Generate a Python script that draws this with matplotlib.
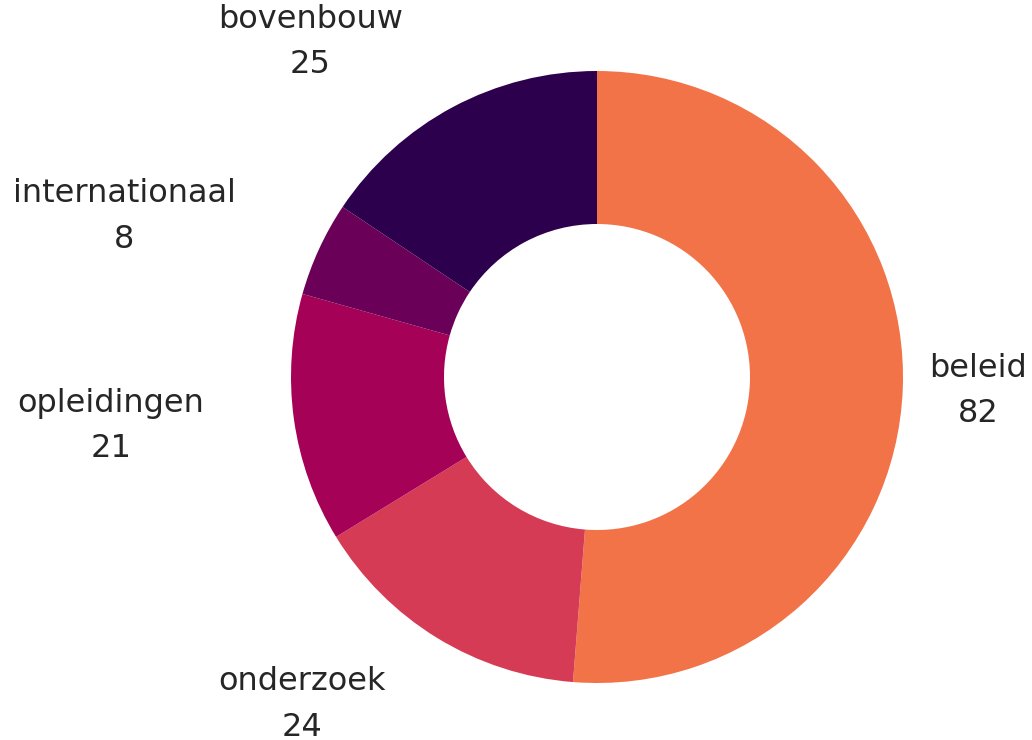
import matplotlib

matplotlib.use("Agg")
import matplotlib.pyplot as plt

categories = ["beleid", "onderzoek", "opleidingen", "internationaal", "bovenbouw"]
values = [82, 24, 21, 8, 25]
colors = ["#F37348", "#D63B55", "#A50157", "#6B0058", "#2D004E"]

# label centres in pie units (radius = 1)
label_pos = [(1.245, -0.045), (-0.965, -1.07), (-1.588, -0.16), (-1.545, 0.525), (-0.937, 1.095)]

plt.rcParams["font.family"] = ["DejaVu Sans"]

fig = plt.figure(figsize=(10.32, 7.4), dpi=100)
ax = fig.add_axes([0, 0, 1, 1])

cx, cy, r = 597, 377, 306
ax.pie(values, colors=colors, startangle=90, counterclock=False,
       radius=1, wedgeprops=dict(width=0.5, linewidth=0))

for name, val, (x, y) in zip(categories, values, label_pos):
    ax.text(x, y, f"{name}\n{val}", ha="center", va="center", fontsize=23,
            color="#262626", linespacing=1.6)

ax.set_xlim(-cx / r, (1032 - cx) / r)
ax.set_ylim(-(740 - cy) / r, cy / r)
ax.set_aspect("auto")
ax.axis("off")

fig.savefig("out.png", dpi=100)
